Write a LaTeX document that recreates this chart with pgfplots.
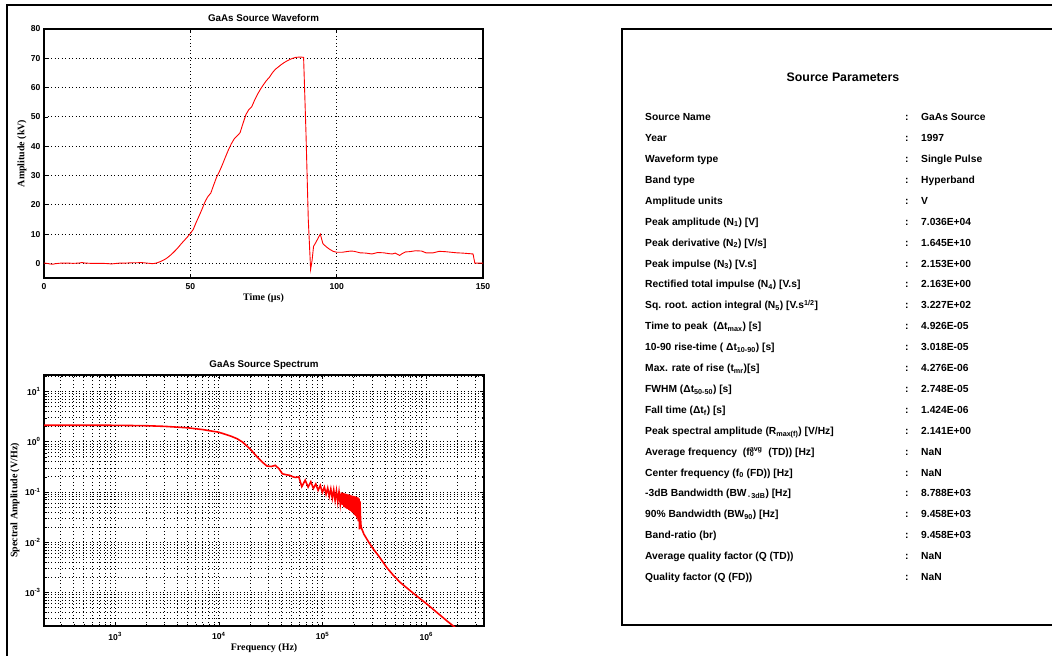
\documentclass[border=0pt]{standalone}
\usepackage{fontspec}
\setmainfont{Liberation Sans}
\newfontfamily\serifb{Liberation Serif}
\usepackage{pgfplots}
\pgfplotsset{compat=1.18}
\newcommand\tabfont{\fontsize{10.3}{12}\selectfont\bfseries}
\newcommand\prow[3]{%
  \node[anchor=base west,inner sep=0pt,font=\tabfont] at (645bp,{656bp-120.8bp-20.9bp*#1}) {#2};
  \node[anchor=base west,inner sep=0pt,font=\tabfont] at (905bp,{656bp-120.8bp-20.9bp*#1}) {:};
  \node[anchor=base west,inner sep=0pt,font=\tabfont] at (921bp,{656bp-120.8bp-20.9bp*#1}) {#3};}
\pgfplotsset{
  every axis title shift=0pt,
  mystyle/.style={
    scale only axis, anchor=south west,
    axis line style={line width=1.4bp},
    tick style={black,line width=0.6bp},
    major tick length=4bp, minor tick length=2.5bp,
    ticklabel style={font=\fontsize{8.6}{9}\selectfont\bfseries},
    xticklabel style={yshift=-2.5bp},
    /pgf/number format/assume math mode=true,
    title style={font=\fontsize{9.8}{11}\selectfont\bfseries, anchor=center},
    label style={font=\serifb\fontsize{10}{11}\selectfont\bfseries},
    major grid style={black, line width=0.9bp, dash pattern=on 0.9bp off 2.6bp},
    minor grid style={black, line width=0.9bp, dash pattern=on 0.9bp off 2.6bp},
  }
}
\begin{document}
\begin{tikzpicture}
\useasboundingbox (0bp,0bp) rectangle (1052bp,656bp);
\begin{scope}
\clip (0bp,0bp) rectangle (1052bp,656bp);
\draw[line width=1.6bp] (7bp,-5bp) -- (7bp,651bp) -- (1060bp,651bp);
\draw[line width=1.6bp] (1070bp,31bp) -- (622bp,31bp) -- (622bp,627bp) -- (1070bp,627bp);
\end{scope}

% Top: waveform
\begin{axis}[mystyle,
  at={(44bp,378bp)}, width=439bp, height=249bp,
  xmin=0, xmax=150, ymin=-5, ymax=80,
  xtick={0,50,100,150}, ytick={0,10,20,30,40,50,60,70,80},
  grid=major,
  title={GaAs Source Waveform},
  title style={at={(axis description cs:0.5,1.0442)}},
  xlabel={Time (\textmu s)},
  xlabel style={at={(axis description cs:0.5,-0.0803)}, anchor=center},
  ylabel={Amplitude (kV)},
  ylabel style={at={(axis description cs:-0.0501,0.5)}, anchor=center},
]
\addplot[red, line width=0.9bp] coordinates {
(0,0.1) (1,0) (2,-0.2) (3,-0.3) (4,-0.1) (6,0.1) (8,0.1) (10,0) (12,0.1) (13,0.3) (14,0.1)
(16,0) (18,0) (20,0) (22,-0.1) (23,-0.2) (24,-0.1) (26,0.1) (28,0.1) (30,0.2) (32,0.2)
(33,0.3) (34,0.2) (36,0) (37,-0.1) (38,0) (39,0.3) (40,0.7) (41,1.2) (42,1.8) (43,2.6)
(44,3.5) (45,4.5) (46,5.6) (47,6.8) (48,7.9) (49,9) (50,10.2) (51,11.6) (52,14) (53,16.2)
(54,18.5) (55,21) (56,22.8) (57,24) (58,26.8) (59,29.5) (60,31.5) (61,33.8) (62,36.3)
(63,38.7) (64,40.8) (65,42.5) (66,43.5) (67,44.6) (68,47.8) (69,50.8) (70,52.5) (71,53.5)
(72,55.8) (73,57.8) (74,59.5) (75,61) (76,62.4) (77,63.5) (78,65) (79,66.2) (80,67)
(81,67.8) (82,68.5) (83,69.1) (84,69.6) (85,70) (86,70.3) (87,70.4) (88,70.4) (88.7,70.3)
(89.5,45) (90.3,15) (91.1,-2.1) (91.6,1) (92.1,5.8) (92.8,7) (93.5,8.3) (94.4,10)
(95.3,6.7) (96.5,5.6) (97.6,4.8) (98.8,4.1) (100,3.8) (102,3.8) (104,4.1) (105,4.2)
(106,4.1) (108,3.6) (110,3.5) (112,3.2) (114,3.7) (116,3.6) (118,3.3) (119,3.2) (120,3.5)
(121.5,2.7) (122.5,3.4) (123.5,3.9) (125,4) (127,4.3) (129,4.2) (130.5,3.6) (133,3.6)
(135,4.1) (137,4) (139,3.8) (141,3.6) (143,3.5) (145.5,3.3) (146.6,3.2) (147.2,0.1) (150,0.1)
};
\end{axis}

% Bottom: spectrum
\begin{axis}[mystyle,
  at={(44bp,30bp)}, width=440bp, height=251bp,
  xmode=log, ymode=log,
  xmin=206, xmax=3.6e6, ymin=2.141e-4, ymax=21.41,
  xtick={1e3,1e4,1e5,1e6},
  xticklabels={10\textsuperscript{3},10\textsuperscript{4},10\textsuperscript{5},10\textsuperscript{6}},
  ytick={1e-3,1e-2,1e-1,1e0,1e1},
  yticklabels={10\textsuperscript{-3},10\textsuperscript{-2},10\textsuperscript{-1},10\textsuperscript{0},10\textsuperscript{1}},
  minor xtick={300,400,500,600,700,800,900,2e3,3e3,4e3,5e3,6e3,7e3,8e3,9e3,2e4,3e4,4e4,5e4,6e4,7e4,8e4,9e4,2e5,3e5,4e5,5e5,6e5,7e5,8e5,9e5,2e6,3e6},
  minor ytick={3e-4,4e-4,5e-4,6e-4,7e-4,8e-4,9e-4,2e-3,3e-3,4e-3,5e-3,6e-3,7e-3,8e-3,9e-3,2e-2,3e-2,4e-2,5e-2,6e-2,7e-2,8e-2,9e-2,0.2,0.3,0.4,0.5,0.6,0.7,0.8,0.9,2,3,4,5,6,7,8,9,20},
  grid=both,
  title={GaAs Source Spectrum},
  title style={at={(axis description cs:0.5,1.0398)}},
  xlabel={Frequency (Hz)},
  xlabel style={at={(axis description cs:0.5,-0.0876)}, anchor=center},
  ylabel={Spectral Amplitude (V/Hz)},
  ylabel style={at={(axis description cs:-0.0659,0.5)}, anchor=center},
]
\addplot[red, line width=1.6bp] coordinates {
(206,2.141) (500,2.14) (1000,2.13) (2000,2.09) (3000,2.03) (5000,1.9) (7000,1.75)
(10000,1.55) (13000,1.3) (15000,1.15) (17000,0.98) (20000,0.72) (23000,0.52) (26000,0.4)
(29000,0.33) (32000,0.322) (35000,0.34) (38000,0.29) (41000,0.23) (45000,0.22) (48000,0.215)
(52000,0.2) (55000,0.195) (59000,0.2) (63000,0.128) (68000,0.172) (72500,0.125) (77000,0.16)
(81500,0.118) (86000,0.145) (90500,0.108) (95000,0.135) (99500,0.098) (104000,0.125)
(108000,0.09) (112000,0.12) (116000,0.082) (120000,0.115) (124000,0.075) (128000,0.11)
(132000,0.068) (136000,0.105) (140000,0.063) (144000,0.1) (148000,0.058) (152000,0.098)
(155000,0.055) (158000,0.096) (161000,0.05) (164000,0.094) (167000,0.048) (170000,0.092)
(173000,0.046) (176000,0.09) (179000,0.044) (182000,0.088) (185000,0.042) (188000,0.086)
(191000,0.04) (194000,0.085) (197000,0.038) (200000,0.083) (203000,0.035) (206000,0.082)
(209000,0.033) (212000,0.08) (215000,0.03) (218000,0.078) (221000,0.026) (224000,0.075)
(227000,0.018) (229500,0.065) (232000,0.03) (235000,0.02)
(250000,0.0145) (280000,0.0098) (310000,0.0072) (350000,0.0052) (417000,0.0031)
(480000,0.0022) (560000,0.00158) (700000,0.00108) (850000,7.8e-4) (1000000,6.0e-4)
(1300000,3.8e-4) (1600000,2.65e-4) (1900000,2.0e-4)
};
\end{axis}

% Parameter table
\node[anchor=base, inner sep=0pt, font=\fontsize{12.4}{14}\selectfont\bfseries] at (843bp,{656bp-81.5bp}) {Source Parameters};
\prow{0}{Source Name}{GaAs Source}
\prow{1}{Year}{1997}
\prow{2}{Waveform type}{Single Pulse}
\prow{3}{Band type}{Hyperband}
\prow{4}{Amplitude units}{V}
\prow{5}{Peak amplitude (N\textsubscript{1}) [V]}{7.036E+04}
\prow{6}{Peak derivative (N\textsubscript{2}) [V/s]}{1.645E+10}
\prow{7}{Peak impulse (N\textsubscript{3}) [V.s]}{2.153E+00}
\prow{8}{Rectified total impulse (N\textsubscript{4}) [V.s]}{2.163E+00}
\prow{9}{Sq. root. action integral (N\textsubscript{5}) [V.s\textsuperscript{1/2}]}{3.227E+02}
\prow{10}{Time to peak\ \ (Δt\textsubscript{max}) [s]}{4.926E-05}
\prow{11}{10-90 rise-time ( Δt\textsubscript{10-90}) [s]}{3.018E-05}
\prow{12}{Max. rate of rise (t\textsubscript{mr})[s]}{4.276E-06}
\prow{13}{FWHM (Δt\textsubscript{50-50}) [s]}{2.748E-05}
\prow{14}{Fall time (Δt\textsubscript{f}) [s]}{1.424E-06}
\prow{15}{Peak spectral amplitude (R\textsubscript{max(f)}) [V/Hz]}{2.141E+00}
\prow{16}{Average frequency\ \ (f\rlap{\textsubscript{0}}\textsuperscript{avg}\ \ (TD)) [Hz]}{NaN}
\prow{17}{Center frequency (f\textsubscript{0} (FD)) [Hz]}{NaN}
\prow{18}{-3dB Bandwidth (BW\textsubscript{\,-\,3dB}) [Hz]}{8.788E+03}
\prow{19}{90\% Bandwidth (BW\textsubscript{90}) [Hz]}{9.458E+03}
\prow{20}{Band-ratio (br)}{9.458E+03}
\prow{21}{Average quality factor (Q (TD))}{NaN}
\prow{22}{Quality factor (Q (FD))}{NaN}
\end{tikzpicture}
\end{document}
